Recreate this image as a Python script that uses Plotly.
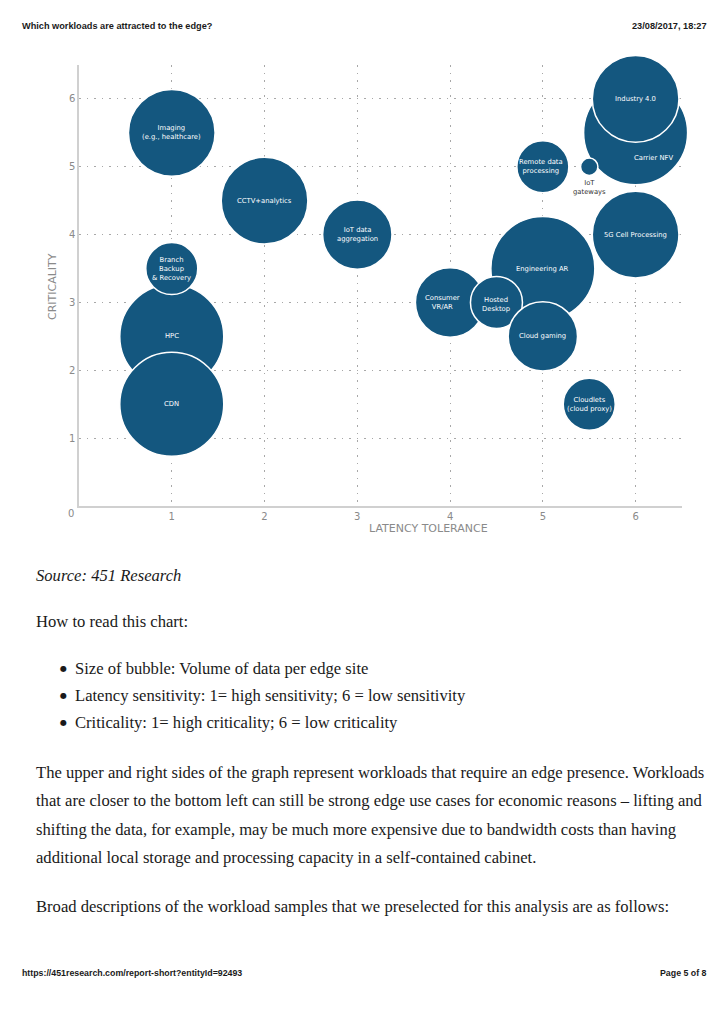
import plotly.graph_objects as go

# ---- data (drawing order: back to front) ----
workloads = ["Carrier NFV", "Industry 4.0", "HPC", "Branch<br>Backup<br>& Recovery", "CDN",
             "Imaging<br>(e.g., healthcare)", "CCTV+analytics", "IoT data<br>aggregation",
             "Engineering AR", "Consumer<br>VR/AR", "Hosted<br>Desktop", "Cloud gaming",
             "Remote data<br>processing", "IoT<br>gateways", "5G Cell Processing",
             "Cloudlets<br>(cloud proxy)"]
latency = [6, 6, 1, 1, 1, 1, 2, 3, 5, 4, 4.5, 5, 5, 5.5, 6, 5.5]
criticality = [5.5, 6, 2.5, 3.5, 1.5, 5.5, 4.5, 4, 3.5, 3, 3, 2.5, 5, 5, 4, 1.5]
volume = [6, 5, 6, 3, 6, 5, 5, 4, 6, 4, 3, 4, 3, 1, 5, 3]
axis_ticks = [1, 2, 3, 4, 5, 6]

# label styling (offsets in px, colours)
label_dx = [18, 0, 0, 0, 0, 0, 0, 0, 0, -8, 0, 0, -2, 0, 0, 0]
label_dy = [-25, 0, 0, 0, 0, 0, 0, 0, 0, 0, -2, 0, 0, -21, 0, 0]
label_col = ["white"] * 16
label_col[13] = "#333333"

BLUE = "#14577f"
OFF = 8                      # default page body margin of the html page
W, H = 728 - 2 * OFF, 1030 - 2 * OFF


def fx(p):
    return (p - OFF) / W


def fy(p):
    return 1 - (p - OFF) / H


fig = go.Figure()
fig.add_trace(go.Scatter(
    x=latency, y=criticality, mode="markers", cliponaxis=False,
    marker=dict(size=volume, sizemode="diameter", sizeref=6 / 104,
                color=BLUE, opacity=1, line=dict(color="white", width=1.5)),
    hoverinfo="text", hovertext=workloads, showlegend=False,
))

annotations = []
for name, xv, yv, dx, dy, col in zip(workloads, latency, criticality, label_dx, label_dy, label_col):
    annotations.append(dict(x=xv, y=yv, xref="x", yref="y", text=name, showarrow=False,
                            xshift=dx, yshift=dy, xanchor="center", yanchor="middle",
                            font=dict(family="DejaVu Sans", size=6.8, color=col)))

AX = "#8a8a8a"
annotations.append(dict(x=0, y=0, xref="x", yref="y", text="0", showarrow=False,
                        xshift=-8, yshift=-8, font=dict(family="DejaVu Sans", size=10, color=AX)))
annotations.append(dict(x=fx(428), y=fy(528), xref="paper", yref="paper", text="LATENCY TOLERANCE",
                        showarrow=False, xanchor="center", yanchor="middle",
                        font=dict(family="DejaVu Sans", size=11, color=AX)))
annotations.append(dict(x=fx(53), y=fy(287), xref="paper", yref="paper", text="CRITICALITY",
                        showarrow=False, textangle=-90, xanchor="center", yanchor="middle",
                        font=dict(family="DejaVu Sans", size=11, color=AX)))


def px_text(x, y, text, size, family, color="#1a1a1a", anchor="left"):
    xx = x - 2 if anchor == "left" else x + 3
    annotations.append(dict(x=fx(xx), y=fy(y), xref="paper", yref="paper", text=text,
                            showarrow=False, xanchor=anchor, yanchor="middle",
                            font=dict(family=family, size=size, color=color)))


HDR = "Liberation Sans"
px_text(22, 26, "<b>Which workloads are attracted to the edge?</b>", 9.2, HDR)
px_text(706, 26, "<b>23/08/2017, 18:27</b>", 9.2, HDR, anchor="right")
px_text(22, 973, "<b>https://451research.com/report-short?entityId=92493</b>", 8.8, HDR)
px_text(706, 973, "<b>Page 5 of 8</b>", 8.8, HDR, anchor="right")

SERIF = "Liberation Serif"
FS = 16.6
px_text(36, 575, "<i>Source: 451 Research</i>", FS, SERIF)
px_text(36, 621, "How to read this chart:", FS, SERIF)
bullets = ["Size of bubble: Volume of data per edge site",
           "Latency sensitivity: 1= high sensitivity; 6 = low sensitivity",
           "Criticality: 1= high criticality; 6 = low criticality"]
for i, b in enumerate(bullets):
    yy = 668 + i * 27
    px_text(60, yy, "\u25cf", 8, "DejaVu Sans")
    px_text(75, yy, b, FS, SERIF)
para = ["The upper and right sides of the graph represent workloads that require an edge presence. Workloads",
        "that are closer to the bottom left can still be strong edge use cases for economic reasons \u2013 lifting and",
        "shifting the data, for example, may be much more expensive due to bandwidth costs than having",
        "additional local storage and processing capacity in a self-contained cabinet."]
for i, line in enumerate(para):
    px_text(36, 772 + i * 28.5, line, FS, SERIF)
px_text(36, 906, "Broad descriptions of the workload samples that we preselected for this analysis are as follows:", FS, SERIF)

axis_common = dict(range=[0, 6.5], tickvals=axis_ticks, showgrid=True, gridcolor="#a8a8a8",
                   griddash="1.5px,6px", gridwidth=1.3, zeroline=False, showline=True,
                   linecolor="#d0d0d0", linewidth=1.5, ticks="", fixedrange=True,
                   tickfont=dict(family="DejaVu Sans", size=10, color=AX))

fig.update_layout(
    width=W, height=H, margin=dict(l=0, r=0, t=0, b=0),
    paper_bgcolor="white", plot_bgcolor="white",
    xaxis=dict(domain=[fx(79), fx(682)], **axis_common),
    yaxis=dict(domain=[fy(506), fy(65)], **axis_common),
    annotations=annotations, showlegend=False,
)

fig.write_html("out.html")
